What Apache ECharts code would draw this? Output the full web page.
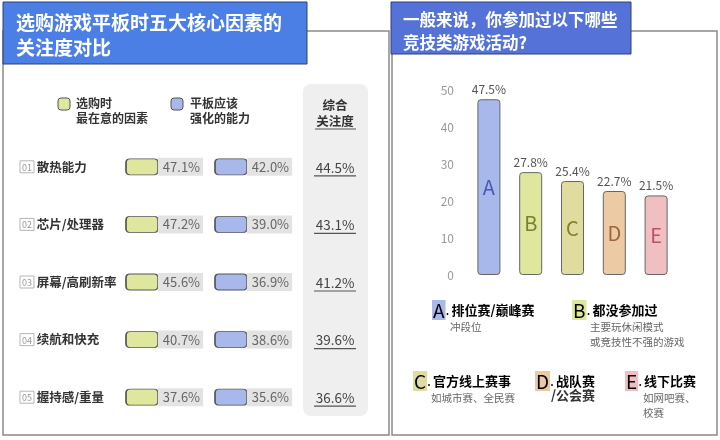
<!DOCTYPE html>
<html>
<head>
<meta charset="utf-8">
<script src="https://cdn.jsdelivr.net/npm/echarts@6/dist/echarts.min.js"></script>
<style>
html,body{margin:0;padding:0;background:#fff;}
#main{width:720px;height:440px;}
</style>
</head>
<body>
<div id="main"></div>
<script>
// 左图：五大核心因素
var factors = ['散热能力', '芯片/处理器', '屏幕/高刷新率', '续航和快充', '握持感/重量'];
var buyFocus = [47.1, 47.2, 45.6, 40.7, 37.6];       // 选购时最在意的因素
var shouldImprove = [42.0, 39.0, 36.9, 38.6, 35.6];  // 平板应该强化的能力
var overall = [44.5, 43.1, 41.2, 39.6, 36.6];        // 综合关注度

// 右图：竞技类游戏活动
var activityKeys = ['A', 'B', 'C', 'D', 'E'];
var activityShare = [47.5, 27.8, 25.4, 22.7, 21.5];
var activityNames = ['排位赛/巅峰赛', '都没参加过', '官方线上赛事', '战队赛\n/公会赛', '线下比赛'];
var activityNotes = ['冲段位', '主要玩休闲模式\n或竞技性不强的游戏', '如城市赛、全民赛', '', '如网吧赛、\n校赛'];
var yTicks = {min: 0, max: 50, interval: 10};

var FONT = '"Noto Sans CJK SC", "Noto Sans", sans-serif';
var barColors = ['#a9b8ea', '#dfe69d', '#e0dc9f', '#eccaa4', '#f1bfc2'];
var letterColors = ['#4658b8', '#76812e', '#857f2c', '#a0643a', '#b85466'];
// 小圆角的色块
var badge = 'path://M4,0H28Q32,0 32,4V12Q32,16 28,16H4Q0,16 0,12V4Q0,0 4,0Z';

var myChart = echarts.init(document.getElementById('main'));

function hiddenCat(gridIndex) {
    return {
        type: 'category', gridIndex: gridIndex, data: ['x'],
        axisLine: {show: false}, axisTick: {show: false},
        axisLabel: {show: false}, splitLine: {show: false}
    };
}
function rowAxis(gridIndex, showLabel) {
    return {
        type: 'category', gridIndex: gridIndex, data: factors, inverse: true,
        axisLine: {show: false}, axisTick: {show: false}, splitLine: {show: false},
        axisLabel: {
            show: showLabel, align: 'left', margin: 106,
            formatter: function (v, i) { return '{n|0' + (i + 1) + '} {t|' + v + '}'; },
            rich: {
                n: {fontSize: 9, color: '#999', borderColor: '#b5b5b5', borderWidth: 1,
                    padding: [2, 2, 1, 2], fontFamily: FONT},
                t: {fontSize: 12.5, fontWeight: 'bold', color: '#333', fontFamily: FONT}
            }
        }
    };
}
function pctLabel(bg) {
    return {
        show: true, position: 'right', distance: -1,
        formatter: function (p) { return p.value[2].toFixed(1) + '%'; },
        backgroundColor: bg, padding: [3, 3, 2, 5],
        color: '#666', fontSize: 13, fontFamily: FONT
    };
}

// 图例小段
function legendItem(x, y, i) {
    var lines = activityNames[i].split('\n');
    var els = [{
        type: 'text', left: x, top: y - 10,
        style: {
            text: '{l|' + activityKeys[i] + '}{d|.}{t|' + lines[0] + '}',
            rich: {
                l: {fontSize: 19, color: letterColors[i], backgroundColor: barColors[i],
                    padding: [1, 1, 0, 1], fontFamily: FONT},
                d: {fontSize: 14, color: letterColors[i], fontFamily: FONT},
                t: {fontSize: 13, fontWeight: 'bold', color: '#333', fontFamily: FONT, padding: [0, 0, 0, 2]}
            }
        }
    }];
    if (lines[1]) {
        els.push({type: 'text', left: x + 16, top: y + 8,
            style: {text: lines[1], fill: '#333', font: 'bold 13px ' + FONT}});
    }
    if (activityNotes[i]) {
        els.push({type: 'text', left: x + 18, top: y + 10,
            style: {text: activityNotes[i], fill: '#666', font: '10.5px ' + FONT, lineHeight: 15}});
    }
    return els;
}

var graphics = [
    // 面板边框
    {type: 'rect', shape: {x: 3, y: 31, width: 386, height: 404}, style: {fill: 'none', stroke: '#8a8a8a', lineWidth: 1.5}, z: 0},
    {type: 'rect', shape: {x: 392, y: 31, width: 325, height: 404}, style: {fill: 'none', stroke: '#8a8a8a', lineWidth: 1.5}, z: 0},
    // 综合关注度底色
    {type: 'rect', shape: {x: 303, y: 84, width: 65, height: 332, r: 8}, style: {fill: '#efefef'}, z: 0},
    // 标题
    {type: 'rect', shape: {x: 3, y: 2, width: 304, height: 62}, style: {fill: '#4c7fe5', stroke: '#2d3f78', lineWidth: 1}, z: 10},
    {type: 'text', left: 16, top: 10, z: 11,
        style: {text: '选购游戏平板时五大核心因素的\n关注度对比', fill: '#fff', font: 'bold 19px ' + FONT, lineHeight: 25}},
    {type: 'rect', shape: {x: 391, y: 2, width: 240, height: 52}, style: {fill: '#5572d8', stroke: '#2d3f78', lineWidth: 1}, z: 10},
    {type: 'text', left: 403, top: 8, z: 11,
        style: {text: '一般来说，你参加过以下哪些\n竞技类游戏活动?', fill: '#fff', font: 'bold 16.5px ' + FONT, lineHeight: 23}},
    // 左图表头
    {type: 'rect', shape: {x: 58, y: 98, width: 12, height: 12, r: 3}, style: {fill: '#dfe69d', stroke: '#555', lineWidth: 1}},
    {type: 'text', left: 76, top: 96, style: {text: '选购时\n最在意的因素', fill: '#333', font: 'bold 12px ' + FONT, lineHeight: 15}},
    {type: 'rect', shape: {x: 171, y: 98, width: 12, height: 12, r: 3}, style: {fill: '#a9b8ea', stroke: '#555', lineWidth: 1}},
    {type: 'text', left: 190, top: 96, style: {text: '平板应该\n强化的能力', fill: '#333', font: 'bold 12px ' + FONT, lineHeight: 15}},
    {type: 'text', x: 335, y: 97, style: {text: '综合\n关注度', fill: '#333', font: 'bold 12.5px ' + FONT, lineHeight: 16, align: 'center'}},
    {type: 'line', shape: {x1: 315, y1: 129, x2: 356, y2: 129}, style: {stroke: '#555', lineWidth: 1.2}}
];
graphics = graphics
    .concat(legendItem(432, 310, 0))
    .concat(legendItem(572, 310, 1))
    .concat(legendItem(413, 381, 2))
    .concat(legendItem(535, 381, 3))
    .concat(legendItem(625, 381, 4));

var option = {
    backgroundColor: '#fff',
    textStyle: {fontFamily: FONT},
    animation: false,
    graphic: graphics,
    grid: [
        {left: 126, width: 32, top: 138, bottom: 14},
        {left: 215, width: 32, top: 138, bottom: 14},
        {left: 319, width: 32, top: 138, bottom: 14},
        {left: 468, width: 209, top: 90, height: 185}
    ],
    xAxis: [
        hiddenCat(0), hiddenCat(1), hiddenCat(2),
        {
            type: 'category', gridIndex: 3, data: activityKeys,
            axisLine: {show: false}, axisTick: {show: false}, axisLabel: {show: false}
        }
    ],
    yAxis: [
        rowAxis(0, true), rowAxis(1, false), rowAxis(2, false),
        {
            type: 'value', gridIndex: 3, min: yTicks.min, max: yTicks.max, interval: yTicks.interval,
            axisLine: {show: false}, axisTick: {show: false}, splitLine: {show: false},
            axisLabel: {color: '#999', fontSize: 12, margin: 14, fontFamily: FONT}
        }
    ],
    series: [
        {
            type: 'scatter', xAxisIndex: 0, yAxisIndex: 0, symbol: badge, symbolSize: [32, 16],
            itemStyle: {color: '#dfe69d', borderColor: '#555', borderWidth: 1.2, opacity: 1},
            label: pctLabel('#e3e3e3'),
            data: buyFocus.map(function (v, i) { return [0, i, v]; }),
            z: 5
        },
        {
            type: 'scatter', xAxisIndex: 1, yAxisIndex: 1, symbol: badge, symbolSize: [32, 16],
            itemStyle: {color: '#a9b8ea', borderColor: '#555', borderWidth: 1.2, opacity: 1},
            label: pctLabel('#e3e3e3'),
            data: shouldImprove.map(function (v, i) { return [0, i, v]; }),
            z: 5
        },
        {
            type: 'scatter', xAxisIndex: 2, yAxisIndex: 2, symbol: 'rect', symbolSize: [42, 1.2],
            symbolOffset: [0, 9],
            itemStyle: {color: '#555', opacity: 1},
            label: {
                show: true, position: 'top', distance: 1,
                formatter: function (p) { return p.value[2].toFixed(1) + '%'; },
                color: '#444', fontSize: 13.5, fontFamily: FONT
            },
            data: overall.map(function (v, i) { return [0, i, v]; }),
            z: 5
        },
        {
            type: 'bar', xAxisIndex: 3, yAxisIndex: 3, barWidth: 23,
            itemStyle: {borderColor: '#666', borderWidth: 1, borderRadius: 3},
            label: {
                show: true, position: 'top', distance: 4,
                formatter: '{c}%', color: '#555', fontSize: 12, fontFamily: FONT
            },
            data: activityShare.map(function (v, i) {
                return {value: v, itemStyle: {color: barColors[i]}};
            })
        },
        {
            type: 'bar', xAxisIndex: 3, yAxisIndex: 3, barWidth: 23, barGap: '-100%',
            itemStyle: {color: 'rgba(0,0,0,0)'},
            label: {
                show: true, position: 'inside', fontSize: 20, fontFamily: FONT,
                formatter: function (p) { return activityKeys[p.dataIndex]; }
            },
            data: activityShare.map(function (v, i) {
                return {value: v, label: {color: letterColors[i]}};
            }),
            z: 3
        }
    ]
};

myChart.setOption(option);
</script>
</body>
</html>
